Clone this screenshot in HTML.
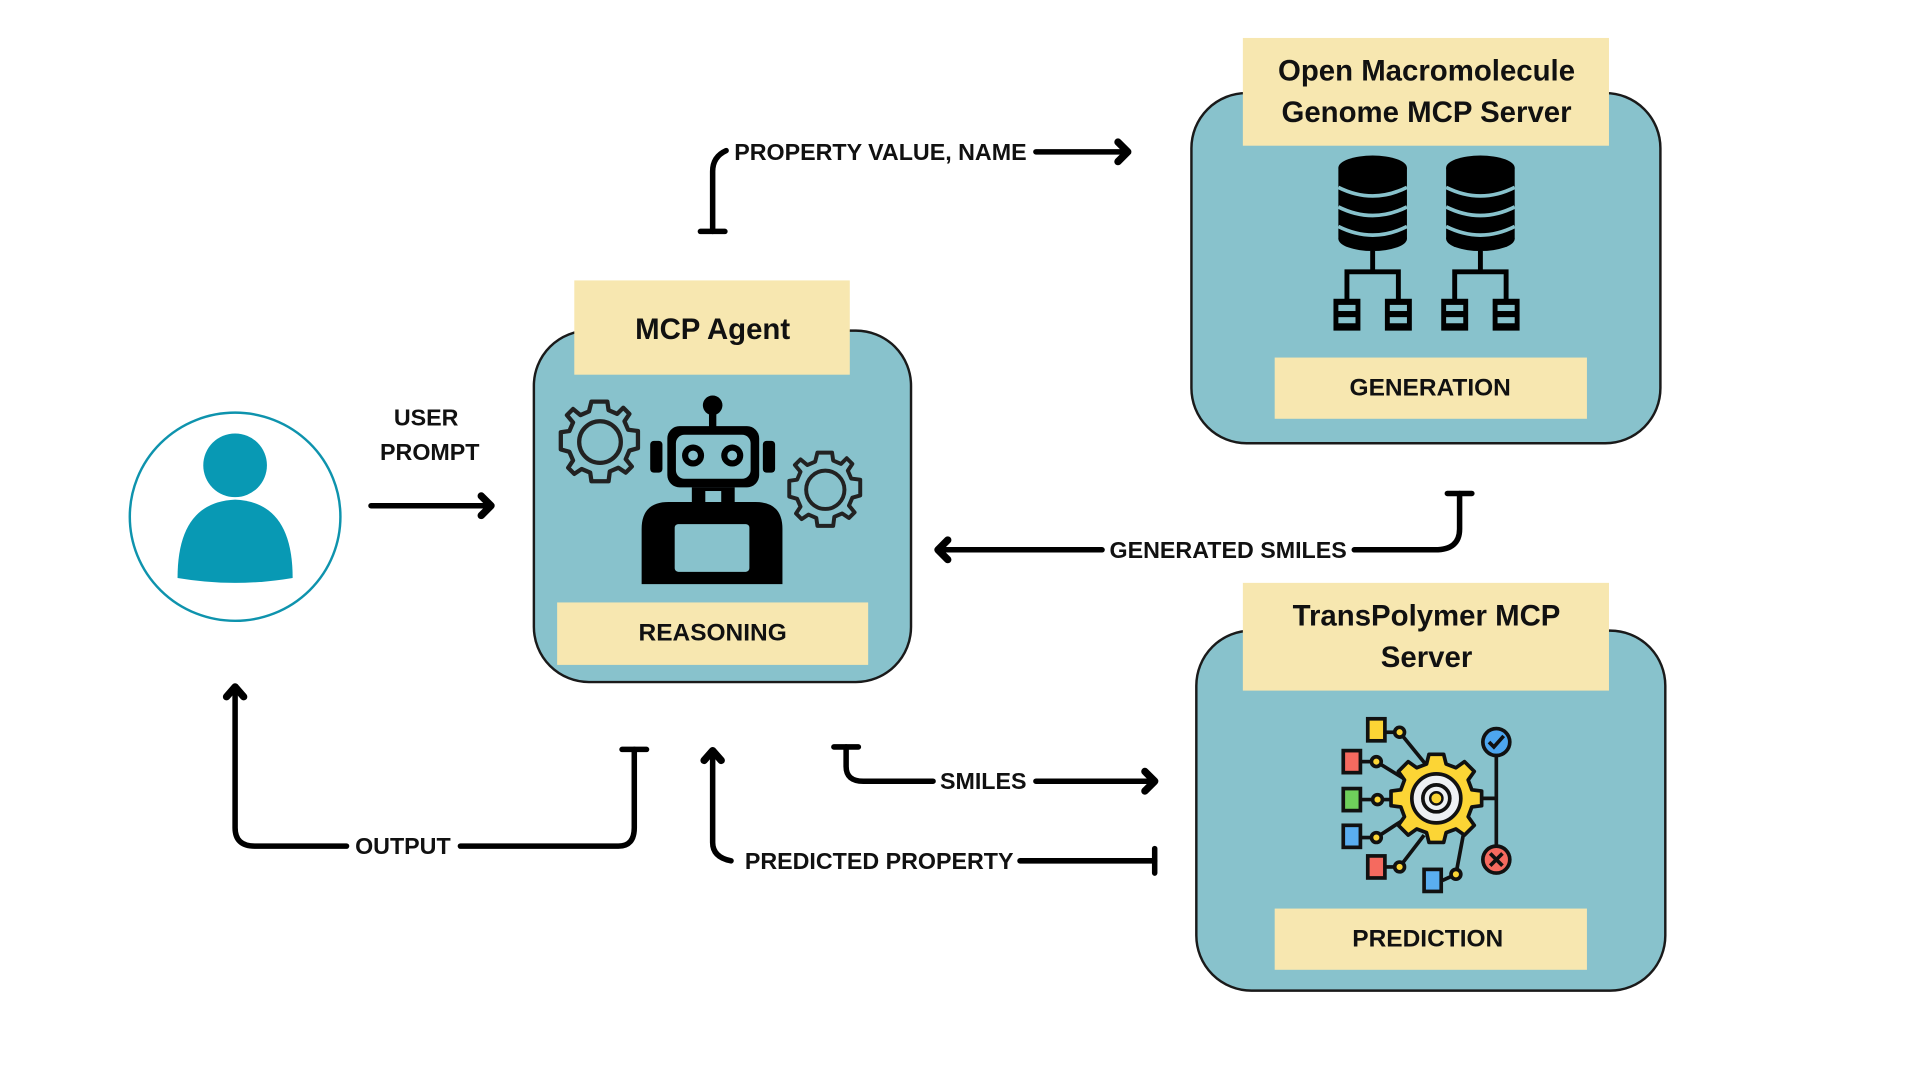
<!DOCTYPE html>
<html><head><meta charset="utf-8"><style>
html,body{margin:0;padding:0;background:#fff;}
svg{display:block}
text{font-family:"Liberation Sans",sans-serif;font-weight:bold;fill:#111;text-anchor:middle;dominant-baseline:central}
</style></head><body>
<svg width="1920" height="1080" viewBox="0 0 1568 882" preserveAspectRatio="none" xmlns="http://www.w3.org/2000/svg">
<rect width="1568" height="882" fill="#fff"/>
<defs>
<g id="gear"><path d="M0,-33 L6,-33 L7,-26 L14,-23 L19,-28 L24,-23 L20,-17 L23,-10 L31,-9 L31,-2 L31,5 L24,7 L21,14 L26,20 L21,25 L15,21 L8,24 L7,32 L-1,32 L-7,32 L-8,25 L-15,22 L-21,26 L-26,21 L-22,15 L-25,8 L-32,6 L-32,-1 L-32,-8 L-25,-9 L-22,-16 L-27,-22 L-22,-27 L-16,-22 L-9,-25 L-7,-33 Z" fill="none" stroke="#222" stroke-width="3.5" stroke-linejoin="round"/><circle r="17" fill="none" stroke="#222" stroke-width="3.5"/></g>
<g id="db"><ellipse cx="0" cy="0" rx="28" ry="10" fill="#000"/><rect x="-28" y="0" width="56" height="58" fill="#000"/><ellipse cx="0" cy="58" rx="28" ry="10" fill="#000"/><path d="M-28,16 Q0,30 28,16 M-28,32 Q0,46 28,32 M-28,48 Q0,62 28,48" stroke="#88c2cc" stroke-width="3" fill="none"/></g>
<g id="srv"><rect x="-11" y="0" width="22" height="26" fill="#000"/><rect x="-7" y="5" width="14" height="5" fill="#88c2cc"/><rect x="-7" y="15" width="14" height="5" fill="#88c2cc"/></g>
</defs>

<ellipse cx="192" cy="422" rx="86" ry="85" fill="#fff" stroke="#0e93ad" stroke-width="2"/>
<circle cx="192" cy="380" r="26" fill="#0899b4"/>
<path d="M145,472 Q145,410 192,408 Q239,410 239,472 Q192,480 145,472 Z" fill="#0899b4"/>

<text x="348" y="341" font-size="19">USER</text>
<text x="351" y="369" font-size="19">PROMPT</text>

<rect x="436" y="270" width="308" height="287" rx="45" fill="#88c2cc" stroke="#1a1a1a" stroke-width="2"/>
<rect x="469" y="229" width="225" height="77" fill="#f7e7b0"/>
<text x="582" y="269" font-size="24">MCP Agent</text>
<rect x="455" y="492" width="254" height="51" fill="#f7e7b0"/>
<text x="582" y="517" font-size="20">REASONING</text>
<use href="#gear" x="490" y="361"/>
<g transform="translate(674,400) scale(0.92)"><use href="#gear"/></g>
<circle cx="582" cy="331" r="8" fill="#000"/><rect x="579" y="331" width="6" height="18" fill="#000"/>
<rect x="531" y="360" width="10" height="26" rx="3" fill="#000"/><rect x="623" y="360" width="10" height="26" rx="3" fill="#000"/>
<rect x="545" y="348" width="75" height="50" rx="10" fill="#000"/>
<rect x="552" y="355" width="61" height="36" rx="7" fill="#88c2cc"/>
<circle cx="566" cy="372" r="9" fill="#000"/><circle cx="566" cy="372" r="4" fill="#88c2cc"/>
<circle cx="598" cy="372" r="9" fill="#000"/><circle cx="598" cy="372" r="4" fill="#88c2cc"/>
<rect x="565" y="398" width="35" height="14" fill="#000"/><rect x="576" y="401" width="13" height="9" fill="#88c2cc"/>
<path d="M524,477 L524,432 Q524,410 546,410 L617,410 Q639,410 639,432 L639,477 Z" fill="#000"/>
<rect x="551" y="428" width="61" height="39" rx="3" fill="#88c2cc"/>

<rect x="973" y="76" width="383" height="286" rx="45" fill="#88c2cc" stroke="#1a1a1a" stroke-width="2"/>
<rect x="1015" y="31" width="299" height="88" fill="#f7e7b0"/>
<text x="1165" y="58" font-size="24">Open Macromolecule</text>
<text x="1165" y="92" font-size="24">Genome MCP Server</text>
<use href="#db" x="1121" y="137"/><use href="#db" x="1209" y="137"/>
<g stroke="#000" stroke-width="4" fill="none">
<path d="M1121,205 V222 M1100,245 V222 H1142 V245 M1209,205 V222 M1188,245 V222 H1230 V245"/>
</g>
<use href="#srv" x="1100" y="244"/><use href="#srv" x="1142" y="244"/><use href="#srv" x="1188" y="244"/><use href="#srv" x="1230" y="244"/>
<rect x="1041" y="292" width="255" height="50" fill="#f7e7b0"/>
<text x="1168" y="317" font-size="20">GENERATION</text>

<rect x="977" y="515" width="383" height="294" rx="45" fill="#88c2cc" stroke="#1a1a1a" stroke-width="2"/>
<rect x="1015" y="476" width="299" height="88" fill="#f7e7b0"/>
<text x="1165" y="503" font-size="24">TransPolymer MCP</text>
<text x="1165" y="537" font-size="24">Server</text>
<rect x="1041" y="742" width="255" height="50" fill="#f7e7b0"/>
<text x="1166" y="767" font-size="20">PREDICTION</text>
<g stroke="#111" stroke-width="3">
<line x1="1143" y1="598" x2="1165" y2="625"/><line x1="1124" y1="622" x2="1150" y2="638"/><line x1="1125" y1="653" x2="1145" y2="653"/>
<line x1="1124" y1="684" x2="1150" y2="667"/><line x1="1143" y1="708" x2="1163" y2="682"/><line x1="1189" y1="714" x2="1195" y2="682"/>
<line x1="1132" y1="598" x2="1143" y2="598"/><line x1="1112" y1="622" x2="1124" y2="622"/><line x1="1112" y1="653" x2="1125" y2="653"/><line x1="1112" y1="684" x2="1124" y2="684"/><line x1="1132" y1="708" x2="1143" y2="708"/><line x1="1178" y1="719" x2="1189" y2="714"/>
<line x1="1222" y1="606" x2="1222" y2="702"/><line x1="1205" y1="652" x2="1222" y2="652"/>
</g>
<g stroke="#111" stroke-width="3">
<rect x="1117" y="587" width="14" height="18" fill="#fcd535"/><rect x="1097" y="613" width="14" height="18" fill="#f56a5f"/>
<rect x="1097" y="644" width="14" height="18" fill="#6fcf5b"/><rect x="1097" y="674" width="14" height="18" fill="#5aaef0"/>
<rect x="1117" y="699" width="14" height="18" fill="#f56a5f"/><rect x="1163" y="710" width="14" height="18" fill="#5aaef0"/>
<circle cx="1143" cy="598" r="4" fill="#fcd535"/><circle cx="1124" cy="622" r="4" fill="#fcd535"/><circle cx="1125" cy="653" r="4" fill="#fcd535"/><circle cx="1124" cy="684" r="4" fill="#fcd535"/><circle cx="1143" cy="708" r="4" fill="#fcd535"/><circle cx="1189" cy="714" r="4" fill="#fcd535"/>
<circle cx="1222" cy="606" r="11" fill="#4da6ef"/><circle cx="1222" cy="702" r="11" fill="#f56a5f"/>
<g transform="translate(1173,652)">
<path d="M-6,-36 H6 L8,-28 L16,-25 L23,-30 L31,-22 L26,-15 L29,-7 L37,-6 V6 L29,7 L26,15 L31,22 L23,30 L16,25 L8,28 L6,36 H-6 L-8,28 L-16,25 L-23,30 L-31,22 L-26,15 L-29,7 L-37,6 V-6 L-29,-7 L-26,-15 L-31,-22 L-23,-30 L-16,-25 L-8,-28 Z" fill="#fcd535" stroke-linejoin="round"/>
<circle r="20" fill="#eef1f4"/><circle r="11" fill="none"/><circle r="5" fill="#fcd535" stroke-width="2"/>
</g>
</g>
<path d="M1216,606 L1220,610 L1228,601 M1217,697 L1227,707 M1227,697 L1217,707" stroke="#111" stroke-width="3" fill="none"/>

<g stroke="#000" stroke-width="4.5" fill="none" stroke-linecap="round" stroke-linejoin="round">
<line x1="303" y1="413" x2="399" y2="413"/>
<path d="M582,189 V140 Q582,128 593,123"/><line x1="572" y1="189" x2="592" y2="189"/>
<line x1="846" y1="124" x2="918" y2="124"/>
<path d="M1192,403 V432 Q1192,449 1172,449 H1106"/><line x1="1182" y1="403" x2="1202" y2="403"/>
<line x1="900" y1="449" x2="767" y2="449"/>
<path d="M691,610 V626 Q691,638 705,638 H762"/><line x1="681" y1="610" x2="701" y2="610"/>
<line x1="846" y1="638" x2="941" y2="638"/>
<path d="M582,615 V688 Q582,700 597,703"/>
<line x1="833" y1="703" x2="943" y2="703"/><line x1="943" y1="693" x2="943" y2="713"/>
<path d="M192,563 V676 Q192,691 208,691 H283"/>
<path d="M376,691 H505 Q518,691 518,676 V612"/><line x1="508" y1="612" x2="528" y2="612"/>
</g>
<g stroke="#000" stroke-width="6" fill="none" stroke-linecap="round" stroke-linejoin="round">
<path d="M393,405 L401,413 L393,421"/>
<path d="M913,116 L921,124 L913,132"/>
<path d="M774,441 L766,449 L774,457"/>
<path d="M935,630 L943,638 L935,646"/>
<path d="M575,621 L582,613 L589,621"/>
<path d="M185,569 L192,561 L199,569"/>
</g>
<text x="719" y="124" font-size="19">PROPERTY VALUE, NAME</text>
<text x="1003" y="449" font-size="19">GENERATED SMILES</text>
<text x="803" y="638" font-size="19">SMILES</text>
<text x="718" y="703" font-size="19">PREDICTED PROPERTY</text>
<text x="329" y="691" font-size="19">OUTPUT</text>
</svg>
</body></html>
